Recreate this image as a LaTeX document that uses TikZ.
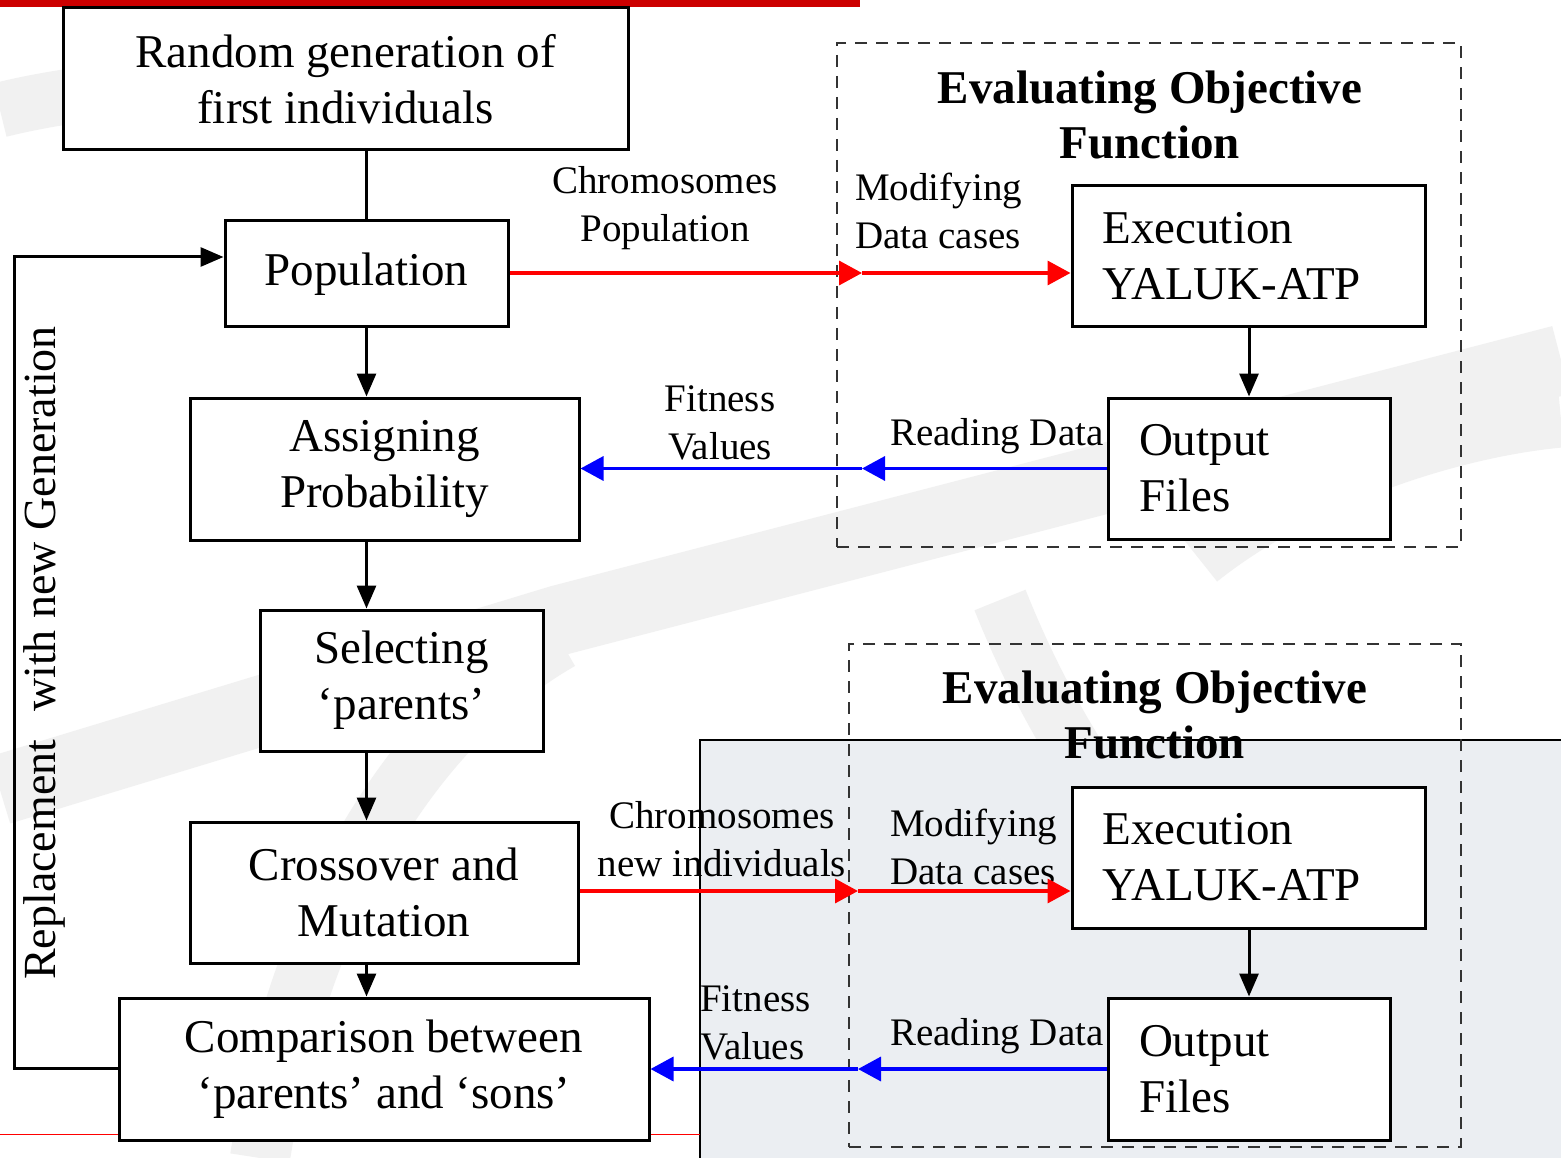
\documentclass[tikz,border=0pt]{standalone}
\usepackage{fontspec}
\setmainfont{Liberation Serif}
\usetikzlibrary{arrows.meta}

\definecolor{barred}{HTML}{CC0000}
\definecolor{panelgray}{HTML}{EBEEF2}
\definecolor{markgray}{HTML}{F1F1F1}
\definecolor{dashgray}{HTML}{333333}

\tikzset{
  box/.style={draw=black, line width=3pt, fill=white, inner sep=0pt,
    align=center, font=\fontsize{47}{56}\selectfont},
  leftbox/.style={box, align=left},
  dashbox/.style={draw=dashgray, line width=2.8pt, dash pattern=on 12pt off 9pt, inner sep=0pt},
  title/.style={inner sep=0pt, align=center, font=\fontsize{47}{55}\selectfont\bfseries},
  lbl/.style={inner sep=0pt, align=center, font=\fontsize{39}{48}\selectfont},
  flow/.style={line width=3pt, -{Triangle[length=23pt,width=19pt]}},
  plain/.style={line width=3pt},
  fwd/.style={draw=red, line width=3.5pt, -{Triangle[length=23pt,width=24pt]}},
  back/.style={draw=blue, line width=3.5pt, -{Triangle[length=23pt,width=24pt]}},
}

\begin{document}
\begin{tikzpicture}[x=1pt, y=-1pt]
  \useasboundingbox (0,0) rectangle (1561,1158);
  \fill[white] (0,0) rectangle (1561,1158);

  % faint background sweeps
  \draw[markgray, line width=70pt] (0,790) -- (560,620) -- (1561,360);
  \draw[markgray, line width=55pt] (0,110) .. controls (60,95) and (120,90) .. (160,85);
  \draw[markgray, line width=60pt] (560,640) .. controls (420,720) and (300,900) .. (260,1158);
  \draw[markgray, line width=55pt] (1000,600) .. controls (1040,700) and (1080,760) .. (1120,820);
  \draw[markgray, line width=55pt] (1200,560) .. controls (1300,480) and (1450,430) .. (1561,420);

  % top bar and lower panel
  \fill[barred] (0,0) rectangle (860,7);
  \fill[panelgray] (700,740) rectangle (1561,1158);
  \draw[line width=2pt] (700,1158) -- (700,740) -- (1561,740);
  \draw[red, line width=1pt] (0,1134) -- (700,1134);

  % evaluation frames
  \node[dashbox, minimum width=624pt, minimum height=504pt] (eval1) at (1149,295) {};
  \node[dashbox, minimum width=612pt, minimum height=503pt] (eval2) at (1155,895.5) {};
  \node[title] (t1) at (1150,115) {Evaluating Objective\\Function};
  \node[title] (t2) at (1155,715) {Evaluating Objective\\Function};

  % main column
  \node[box, minimum width=565pt, minimum height=142pt] (rand) at (345.5,79) {Random generation of\\first individuals};
  \node[box, minimum width=283pt, minimum height=106pt] (pop) at (366.5,274) {Population};
  \node[box, minimum width=389pt, minimum height=142pt] (assign) at (384.5,469) {Assigning\\Probability};
  \node[box, minimum width=283pt, minimum height=141pt] (select) at (401.5,680.5) {Selecting\\‘parents’};
  \node[box, minimum width=388pt, minimum height=141pt] (cross) at (384,892.5) {Crossover and\\Mutation};
  \node[box, minimum width=530pt, minimum height=142pt] (comp) at (384,1069) {Comparison between\\‘parents’ and ‘sons’};

  % simulation boxes
  \node[leftbox, minimum width=353pt, minimum height=141pt, text width=292pt] (exec1) at (1248.5,256.5) {Execution\\YALUK-ATP};
  \node[leftbox, minimum width=282pt, minimum height=141pt, text width=220pt] (out1) at (1249,468.5) {Output\\Files};
  \node[leftbox, minimum width=353pt, minimum height=141pt, text width=292pt] (exec2) at (1248.5,857.5) {Execution\\YALUK-ATP};
  \node[leftbox, minimum width=282pt, minimum height=142pt, text width=220pt] (out2) at (1249,1069) {Output\\Files};

  % connector labels
  \node[lbl] (l1) at (665,208) {Chromosomes\\Population};
  \node[lbl, align=left, anchor=west] (m1) at (855,211) {Modifying\\Data cases};
  \node[lbl] (f1) at (720,423) {Fitness\\Values};
  \node[lbl, anchor=west] (r1) at (890,436) {Reading Data};
  \node[lbl] (l2) at (722,839) {Chromosomes\\new individuals};
  \node[lbl, align=left, anchor=west] (m2) at (890,847) {Modifying\\Data cases};
  \node[lbl, align=left, anchor=west] (f2) at (700,1023) {Fitness\\Values};
  \node[lbl, anchor=west] (r2) at (890,1036) {Reading Data};
  \node[lbl, font=\fontsize{46}{54}\selectfont, rotate=90] (repl) at (44,653) {Replacement\hspace{0.35em} with new Generation};

  % junction points on the frame edges
  \coordinate (c1) at (862,273);
  \coordinate (c2) at (862,468.5);
  \coordinate (c3) at (858,891);
  \coordinate (c4) at (858,1069);
  \coordinate (lp) at (14,1068);

  % main flow
  \draw[plain] (pop.north |- rand.south) -- (pop.north);
  \draw[flow] (pop.south) -- (pop.south |- assign.north);
  \draw[flow] (pop.south |- assign.south) -- (pop.south |- select.north);
  \draw[flow] (pop.south |- select.south) -- (pop.south |- cross.north);
  \draw[flow] (pop.south |- cross.south) -- (pop.south |- comp.north);
  \draw[flow] (comp.west |- lp) -- (lp) |- ([yshift=17pt]pop.west);

  % evaluation loops
  \draw[fwd] (pop.east |- c1) -- (c1);
  \draw[fwd] (c1) -- (c1 -| exec1.west);
  \draw[flow] (out1.north |- exec1.south) -- (out1.north);
  \draw[back] (out1.west) -- (c2);
  \draw[back] (c2) -- (c2 -| assign.east);

  \draw[fwd] (cross.east |- c3) -- (c3);
  \draw[fwd] (c3) -- (c3 -| exec2.west);
  \draw[flow] (out2.north |- exec2.south) -- (out2.north);
  \draw[back] (out2.west) -- (c4);
  \draw[back] (c4) -- (c4 -| comp.east);
\end{tikzpicture}
\end{document}
